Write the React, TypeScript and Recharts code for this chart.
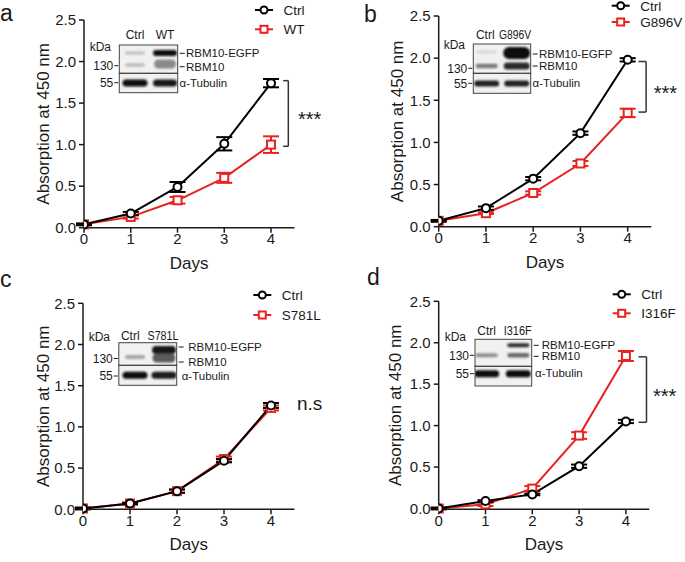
import { LineChart, Line, XAxis, YAxis, ErrorBar, ReferenceLine } from "recharts";

const FONT = '"Liberation Sans", Arial, Helvetica, sans-serif';
const RED = "#e8221e";
const INK = "#1a1a1a";

// days on the x axis
const DAYS = [0, 1, 2, 3, 4];
const X_TICKS = [0, 1, 2, 3, 4];
const Y_TICKS = [0, 0.5, 1, 1.5, 2, 2.5];

// panel a: Ctrl vs WT
const A_CTRL = [0.04, 0.17, 0.49, 1.01, 1.74];
const A_CTRL_ERR = [0.01, 0.02, 0.06, 0.08, 0.05];
const A_WT = [0.04, 0.13, 0.33, 0.6, 1.0];
const A_WT_ERR = [0.01, 0.02, 0.04, 0.06, 0.1];

// panel b: Ctrl vs G896V
const B_CTRL = [0.07, 0.22, 0.57, 1.11, 1.98];
const B_CTRL_ERR = [0.01, 0.02, 0.02, 0.02, 0.02];
const B_MUT = [0.07, 0.16, 0.4, 0.75, 1.35];
const B_MUT_ERR = [0.01, 0.01, 0.02, 0.03, 0.05];

// panel c: Ctrl vs S781L
const C_CTRL = [0.01, 0.07, 0.22, 0.59, 1.26];
const C_CTRL_ERR = [0.01, 0.01, 0.02, 0.02, 0.03];
const C_MUT = [0.01, 0.07, 0.22, 0.61, 1.23];
const C_MUT_ERR = [0.01, 0.01, 0.02, 0.03, 0.03];

// panel d: Ctrl vs I316F
const D_CTRL = [0.0, 0.09, 0.17, 0.51, 1.05];
const D_CTRL_ERR = [0.01, 0.01, 0.01, 0.02, 0.02];
const D_MUT = [0.0, 0.05, 0.24, 0.88, 1.84];
const D_MUT_ERR = [0.01, 0.02, 0.03, 0.04, 0.06];

const rows = (ctrl: number[], ctrlErr: number[], mut: number[], mutErr: number[]) =>
  DAYS.map((d, i) => ({ day: d, ctrl: ctrl[i], ctrlErr: ctrlErr[i], mut: mut[i], mutErr: mutErr[i] }));

const Square = (props: any) => {
  const { cx, cy, index } = props;
  if (cx == null || cy == null) return null;
  return <rect key={`sq-${index}`} x={cx - 4} y={cy - 4} width={8} height={8} fill="#fff" stroke={RED} strokeWidth={2} />;
};

type Band = { lane: number; y: number; h: number; w: number; c: string };
type Blot = {
  x0: number; x1: number; yTop: number; yMid: number; yBot: number;
  lanes: number[]; laneLabelX: number[]; laneLabels: string[]; laneLabelW: (number | undefined)[]; labelY: number;
  kda: [number, number]; m130: number; m55: number; rightX: number; tubX: number;
  egfpY: number; rbmY: number; tubY: number; bands: Band[];
};

function BlotInset({ b, id }: { b: Blot; id: string }) {
  const t = { fontFamily: FONT, fontSize: 12, fill: INK };
  const r = { fontFamily: FONT, fontSize: 11.5, fill: INK };
  return (
    <g>
      <defs>
        <filter id={id} x="-50%" y="-100%" width="200%" height="300%">
          <feGaussianBlur stdDeviation="1.1" />
        </filter>
        <clipPath id={`${id}-clip`}>
          <rect x={b.x0} y={b.yTop} width={b.x1 - b.x0} height={b.yBot - b.yTop} />
        </clipPath>
      </defs>
      <rect x={b.x0} y={b.yTop} width={b.x1 - b.x0} height={b.yBot - b.yTop} fill="#f1f1f1" />
      <g clipPath={`url(#${id}-clip)`}>
        <g filter={`url(#${id})`}>
          {b.bands.map((bd, i) => (
            <rect key={i} x={b.lanes[bd.lane] - bd.w / 2} y={bd.y - bd.h / 2} width={bd.w} height={bd.h} rx={bd.h / 2} fill={bd.c} />
          ))}
        </g>
      </g>
      <rect x={b.x0} y={b.yTop} width={b.x1 - b.x0} height={b.yMid - b.yTop} fill="none" stroke="#444" strokeWidth={1} />
      <rect x={b.x0} y={b.yMid} width={b.x1 - b.x0} height={b.yBot - b.yMid} fill="none" stroke="#444" strokeWidth={1} />
      {b.laneLabels.map((l, i) => (
        <text
          key={l} x={b.laneLabelX[i]} y={b.labelY} textAnchor="middle" {...t}
          textLength={b.laneLabelW[i]} lengthAdjust={b.laneLabelW[i] ? "spacingAndGlyphs" : undefined}
        >
          {l}
        </text>
      ))}
      <text x={b.kda[0]} y={b.kda[1]} textAnchor="end" {...t}>kDa</text>
      <text x={b.x0 - 6} y={b.m130 + 4.3} textAnchor="end" {...t}>130</text>
      <line x1={b.x0 - 5} x2={b.x0 - 1} y1={b.m130} y2={b.m130} stroke={INK} />
      <text x={b.x0 - 6} y={b.m55 + 4.3} textAnchor="end" {...t}>55</text>
      <line x1={b.x0 - 5} x2={b.x0 - 1} y1={b.m55} y2={b.m55} stroke={INK} />
      <line x1={b.x1 + 2} x2={b.x1 + 7} y1={b.egfpY} y2={b.egfpY} stroke={INK} />
      <text x={b.rightX} y={b.egfpY + 4.1} {...r}>RBM10-EGFP</text>
      <line x1={b.x1 + 2} x2={b.x1 + 7} y1={b.rbmY} y2={b.rbmY} stroke={INK} />
      <text x={b.rightX} y={b.rbmY + 4.1} {...r}>RBM10</text>
      <text x={b.tubX} y={b.tubY + 4.1} {...r}>α-Tubulin</text>
    </g>
  );
}

type PanelSpec = {
  letter: string; letterX: number; letterY: number;
  left: number; top: number; w: number; h: number;
  plotLeft: number; plotTop: number; plotBottom: number; plotW: number;
  ylabelX: number;
  data: any[]; mutLabel: string;
  legendX: number; legendY: number; legendStep: number;
  bracket?: { x0: number; x1: number; yTop: number; yBot: number };
  sig: string; sigX: number; sigY: number; sigSize: number;
  blot: Blot;
};

function Panel({ p, id }: { p: PanelSpec; id: string }) {
  const margin = {
    top: p.plotTop,
    left: 0,
    right: p.w - p.plotLeft - p.plotW,
    bottom: p.h - p.plotBottom - 30,
  };
  const axisTick = { fill: INK, fontSize: 15, fontFamily: FONT };
  const br = p.bracket;
  const ly2 = p.legendY + p.legendStep;
  return (
    <div style={{ position: "absolute", left: p.left, top: p.top, width: p.w, height: p.h }}>
      <LineChart width={p.w} height={p.h} data={p.data} margin={margin}>
        <XAxis
          dataKey="day" type="number" domain={[0, 4.5]} ticks={X_TICKS} allowDataOverflow
          height={30} tickSize={5} tickMargin={1} tick={axisTick}
          axisLine={{ stroke: INK, strokeWidth: 1.5 }} tickLine={{ stroke: INK, strokeWidth: 1.5 }}
          label={{ value: "Days", position: "bottom", offset: -1, style: { fontSize: 17, fontFamily: FONT, fill: INK } }}
        />
        <YAxis
          type="number" domain={[0, 2.5]} ticks={Y_TICKS} width={p.plotLeft}
          tickFormatter={(v: number) => v.toFixed(1)} tickSize={5} tickMargin={3} tick={axisTick}
          axisLine={{ stroke: INK, strokeWidth: 1.5 }} tickLine={{ stroke: INK, strokeWidth: 1.5 }}
          label={{
            value: "Absorption at 450 nm", angle: -90, position: "insideLeft", offset: p.ylabelX,
            style: { textAnchor: "middle", fontSize: 17, fontFamily: FONT, fill: INK },
          }}
        />
        <Line dataKey="mut" stroke={RED} strokeWidth={2} dot={Square} isAnimationActive={false} type="linear">
          <ErrorBar dataKey="mutErr" direction="y" width={8} stroke={RED} strokeWidth={2} />
        </Line>
        <Line
          dataKey="ctrl" stroke="#000" strokeWidth={2} type="linear" isAnimationActive={false}
          dot={{ r: 4, fill: "#fff", stroke: "#000", strokeWidth: 2 }}
        >
          <ErrorBar dataKey="ctrlErr" direction="y" width={8} stroke="#000" strokeWidth={2} />
        </Line>
        {br && (
          <ReferenceLine segment={[{ x: br.x1, y: br.yTop }, { x: br.x1, y: br.yBot }]} stroke="#333" strokeWidth={1.5} ifOverflow="visible" />
        )}
        {br && (
          <ReferenceLine segment={[{ x: br.x0, y: br.yTop }, { x: br.x1, y: br.yTop }]} stroke="#333" strokeWidth={1.5} ifOverflow="visible" />
        )}
        {br && (
          <ReferenceLine segment={[{ x: br.x0, y: br.yBot }, { x: br.x1, y: br.yBot }]} stroke="#333" strokeWidth={1.5} ifOverflow="visible" />
        )}
      </LineChart>
      <svg width={p.w} height={p.h} style={{ position: "absolute", left: 0, top: 0, pointerEvents: "none", overflow: "visible" }}>
        <text x={p.letterX} y={p.letterY} fontSize={23} fontFamily={FONT} fill={INK}>{p.letter}</text>
        <BlotInset b={p.blot} id={id} />
        {/* legend */}
        <line x1={p.legendX} x2={p.legendX + 18} y1={p.legendY} y2={p.legendY} stroke="#000" strokeWidth={2} />
        <circle cx={p.legendX + 9} cy={p.legendY} r={3.5} fill="#fff" stroke="#000" strokeWidth={2} />
        <text x={p.legendX + 28.5} y={p.legendY + 4.8} fontSize={13.5} fontFamily={FONT} fill={INK}>Ctrl</text>
        <line x1={p.legendX} x2={p.legendX + 18} y1={ly2} y2={ly2} stroke={RED} strokeWidth={2} />
        <rect x={p.legendX + 5.5} y={ly2 - 3.5} width={7} height={7} fill="#fff" stroke={RED} strokeWidth={2} />
        <text x={p.legendX + 28.5} y={ly2 + 4.8} fontSize={13.5} fontFamily={FONT} fill={INK}>{p.mutLabel}</text>
        <text x={p.sigX} y={p.sigY} fontSize={p.sigSize} fontFamily={FONT} fill={INK}>{p.sig}</text>
      </svg>
    </div>
  );
}

const PANEL_A: PanelSpec = {
  letter: "a", letterX: 0, letterY: 21,
  left: 0, top: 0, w: 342, h: 280,
  plotLeft: 84, plotTop: 20, plotBottom: 227.7, plotW: 210.4, ylabelX: 43,
  data: rows(A_CTRL, A_CTRL_ERR, A_WT, A_WT_ERR), mutLabel: "WT",
  legendX: 255, legendY: 10, legendStep: 19.3,
  bracket: { x0: 4.26, x1: 4.37, yTop: 1.77, yBot: 0.98 },
  sig: "***", sigX: 298, sigY: 126, sigSize: 20,
  blot: {
    x0: 119.3, x1: 177.7, yTop: 45, yMid: 73.3, yBot: 92.7,
    lanes: [135, 165], laneLabelX: [135, 165], laneLabels: ["Ctrl", "WT"], laneLabelW: [undefined, undefined], labelY: 39.3,
    kda: [111, 51], m130: 65.7, m55: 82.7, rightX: 186, tubX: 179.5,
    egfpY: 53.3, rbmY: 66.7, tubY: 82.7,
    bands: [
      { lane: 0, y: 53, h: 3.5, w: 20, c: "#c4c4c4" },
      { lane: 0, y: 65, h: 3.5, w: 20, c: "#bdbdbd" },
      { lane: 1, y: 53, h: 6, w: 24, c: "#111" },
      { lane: 1, y: 64, h: 9, w: 22, c: "#8a8a8a" },
      { lane: 0, y: 83, h: 7, w: 25, c: "#0d0d0d" },
      { lane: 1, y: 83, h: 7, w: 24, c: "#151515" },
    ],
  },
};

const PANEL_B: PanelSpec = {
  letter: "b", letterX: 22, letterY: 22,
  left: 342, top: 0, w: 343, h: 280,
  plotLeft: 96.7, plotTop: 16, plotBottom: 226.7, plotW: 212.6, ylabelX: 55,
  data: rows(B_CTRL, B_CTRL_ERR, B_MUT, B_MUT_ERR), mutLabel: "G896V",
  legendX: 269.7, legendY: 5.7, legendStep: 16.3,
  bracket: { x0: 4.23, x1: 4.39, yTop: 1.96, yBot: 1.36 },
  sig: "***", sigX: 311.7, sigY: 99.6, sigSize: 20,
  blot: {
    x0: 131.3, x1: 188.7, yTop: 44, yMid: 73.3, yBot: 93.3,
    lanes: [144.7, 174.7], laneLabelX: [143.3, 173], laneLabels: ["Ctrl", "G896V"], laneLabelW: [undefined, 32], labelY: 39.3,
    kda: [123, 49], m130: 68.3, m55: 83.3, rightX: 197, tubX: 190.5,
    egfpY: 54, rbmY: 66, tubY: 83.3,
    bands: [
      { lane: 0, y: 52, h: 3, w: 20, c: "#d6d6d6" },
      { lane: 0, y: 66, h: 4.5, w: 22, c: "#7a7a7a" },
      { lane: 1, y: 53, h: 12, w: 27, c: "#0a0a0a" },
      { lane: 1, y: 66, h: 7, w: 26, c: "#2a2a2a" },
      { lane: 0, y: 83.5, h: 6, w: 25, c: "#222" },
      { lane: 1, y: 83.5, h: 6, w: 25, c: "#222" },
    ],
  },
};

const PANEL_C: PanelSpec = {
  letter: "c", letterX: 0, letterY: 7,
  left: 0, top: 280, w: 342, h: 282,
  plotLeft: 83, plotTop: 23.3, plotBottom: 229.3, plotW: 211.5, ylabelX: 43,
  data: rows(C_CTRL, C_CTRL_ERR, C_MUT, C_MUT_ERR), mutLabel: "S781L",
  legendX: 253.3, legendY: 15, legendStep: 20,
  sig: "n.s", sigX: 297, sigY: 130, sigSize: 19,
  blot: {
    x0: 118.8, x1: 176.7, yTop: 62.7, yMid: 85.3, yBot: 105.3,
    lanes: [135, 164], laneLabelX: [130.3, 163], laneLabels: ["Ctrl", "S781L"], laneLabelW: [undefined, 31], labelY: 60.3,
    kda: [110, 61.3], m130: 78.5, m55: 96, rightX: 188.3, tubX: 181.7,
    egfpY: 67, rbmY: 82, tubY: 96,
    bands: [
      { lane: 0, y: 77, h: 4, w: 20, c: "#a5a5a5" },
      { lane: 1, y: 70, h: 8, w: 24, c: "#151515" },
      { lane: 1, y: 78, h: 9, w: 23, c: "#5a5a5a" },
      { lane: 0, y: 95.3, h: 7, w: 25, c: "#0d0d0d" },
      { lane: 1, y: 95.3, h: 7, w: 25, c: "#1a1a1a" },
    ],
  },
};

const PANEL_D: PanelSpec = {
  letter: "d", letterX: 25, letterY: 5,
  left: 342, top: 280, w: 343, h: 282,
  plotLeft: 96.7, plotTop: 21.3, plotBottom: 229.3, plotW: 210.6, ylabelX: 53,
  data: rows(D_CTRL, D_CTRL_ERR, D_MUT, D_MUT_ERR), mutLabel: "I316F",
  legendX: 270.7, legendY: 14.3, legendStep: 19,
  bracket: { x0: 4.27, x1: 4.44, yTop: 1.83, yBot: 1.04 },
  sig: "***", sigX: 311, sigY: 123, sigSize: 20,
  blot: {
    x0: 133, x1: 189.7, yTop: 59.3, yMid: 86.3, yBot: 106,
    lanes: [144.7, 176.3], laneLabelX: [144.7, 175.7], laneLabels: ["Ctrl", "I316F"], laneLabelW: [undefined, 28], labelY: 54.6,
    kda: [124, 61.3], m130: 75.3, m55: 93.7, rightX: 199.7, tubX: 193,
    egfpY: 65.3, rbmY: 76.3, tubY: 93,
    bands: [
      { lane: 0, y: 75.3, h: 4, w: 22, c: "#8f8f8f" },
      { lane: 1, y: 65.3, h: 4, w: 22, c: "#2e2e2e" },
      { lane: 1, y: 75.3, h: 4.5, w: 22, c: "#6a6a6a" },
      { lane: 0, y: 93.7, h: 7, w: 25, c: "#0d0d0d" },
      { lane: 1, y: 93.7, h: 7, w: 25, c: "#0d0d0d" },
    ],
  },
};

export default function App() {
  return (
    <div style={{ position: "absolute", left: 0, top: 0, width: 685, height: 562, background: "#fff", fontFamily: FONT }}>
      <Panel p={PANEL_A} id="blot-a" />
      <Panel p={PANEL_B} id="blot-b" />
      <Panel p={PANEL_C} id="blot-c" />
      <Panel p={PANEL_D} id="blot-d" />
    </div>
  );
}
